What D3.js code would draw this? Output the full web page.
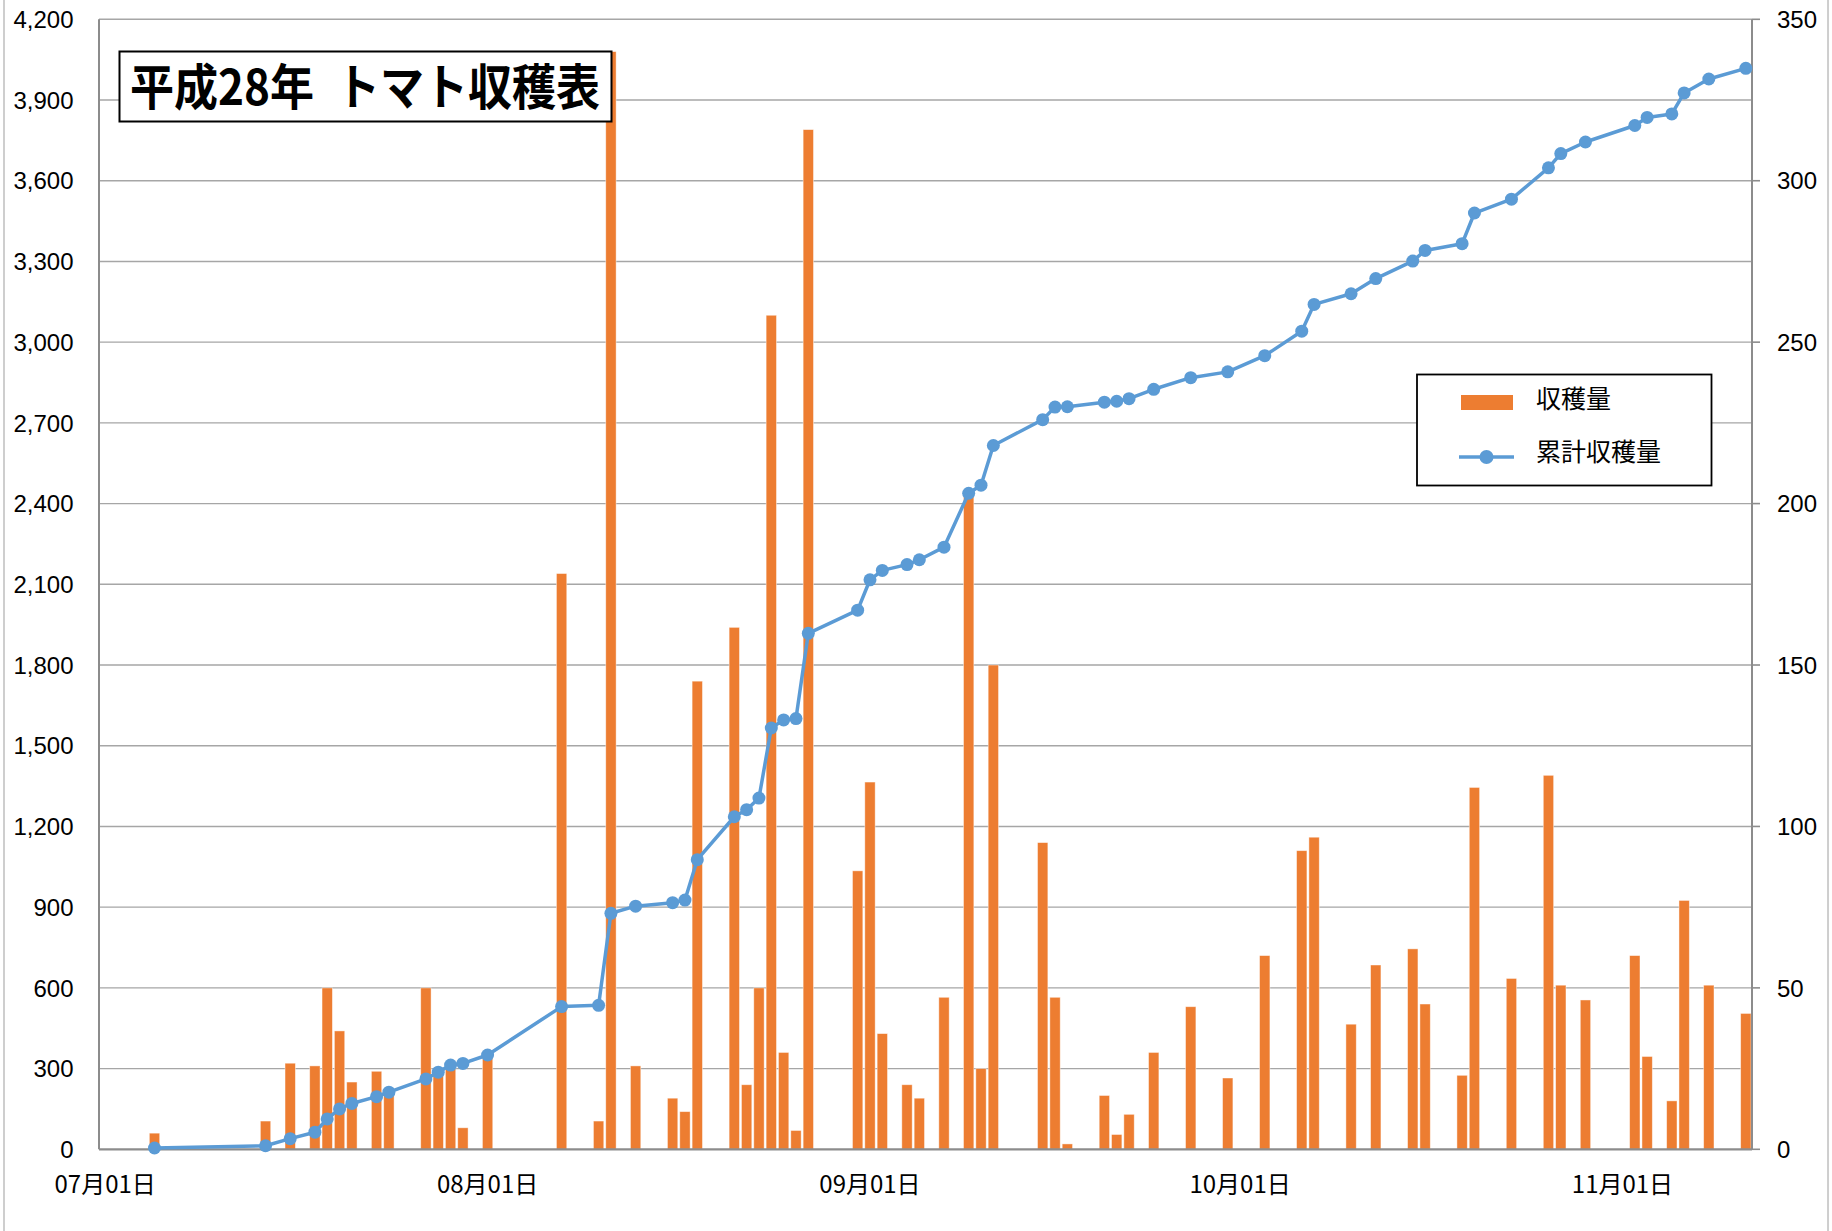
<!DOCTYPE html>
<html>
<head>
<meta charset="utf-8">
<script src="https://cdn.jsdelivr.net/npm/d3@7"></script>
<style>
  html, body { margin: 0; padding: 0; background: #fff; }
  svg { display: block; }
</style>
</head>
<body>
<svg id="chart" width="1832" height="1231"></svg>
<script>
// ---- data ----
const dates = [
  "2016-07-05","2016-07-14","2016-07-16","2016-07-18","2016-07-19","2016-07-20","2016-07-21","2016-07-23","2016-07-24",
  "2016-07-27","2016-07-28","2016-07-29","2016-07-30","2016-08-01","2016-08-07","2016-08-10","2016-08-11","2016-08-13",
  "2016-08-16","2016-08-17","2016-08-18","2016-08-21","2016-08-22","2016-08-23","2016-08-24","2016-08-25","2016-08-26",
  "2016-08-27","2016-08-31","2016-09-01","2016-09-02","2016-09-04","2016-09-05","2016-09-07","2016-09-09","2016-09-10",
  "2016-09-11","2016-09-15","2016-09-16","2016-09-17","2016-09-20","2016-09-21","2016-09-22","2016-09-24","2016-09-27",
  "2016-09-30","2016-10-03","2016-10-06","2016-10-07","2016-10-10","2016-10-12","2016-10-15","2016-10-16","2016-10-19",
  "2016-10-20","2016-10-23","2016-10-26","2016-10-27","2016-10-29","2016-11-02","2016-11-03","2016-11-05","2016-11-06",
  "2016-11-08","2016-11-11"
];
const harvest = [
  60,105,320,310,600,440,250,290,210,
  600,290,300,80,350,2140,105,4080,310,
  190,140,1740,1940,240,600,3100,360,70,
  3790,1035,1365,430,240,190,565,2440,300,
  1800,1140,565,20,200,55,130,360,530,
  265,720,1110,1160,465,685,745,540,275,
  1345,635,1390,610,555,720,345,180,925,
  610,505
];
const cumulative = [
  0.4,1.1,3.3,5.3,9.4,12.5,14.2,16.3,17.7,
  21.8,23.9,26.1,26.6,29.2,44.2,44.6,73.1,75.3,
  76.4,77.2,89.7,103.0,105.2,108.8,130.5,133.0,133.4,
  159.8,167.0,176.4,179.3,181.1,182.6,186.5,203.2,205.7,
  218.0,226.0,229.9,230.0,231.4,231.7,232.5,235.4,239.0,
  240.8,245.8,253.4,261.7,265.0,269.7,275.1,278.4,280.5,
  290.0,294.3,304.0,308.4,312.0,317.1,319.6,320.7,327.2,
  331.5,334.8
];
const leftTicks = [0,300,600,900,1200,1500,1800,2100,2400,2700,3000,3300,3600,3900,4200];
const rightTicks = [0,50,100,150,200,250,300,350];
const xTickDates = ["2016-07-01","2016-08-01","2016-09-01","2016-10-01","2016-11-01"];
const xTickLabels = ["07月01日","08月01日","09月01日","10月01日","11月01日"];
const chartTitle = "平成28年\u2002トマト収穫表";
const seriesNames = ["収穫量","累計収穫量"];

// ---- layout ----
const parse = d3.timeParse("%Y-%m-%d");
const DAY = 864e5;
const plot = {left: 99, right: 1752, top: 19.3, bottom: 1149.3};
const orange = "#ED7D31", blue = "#5B9BD5";

const data = dates.map((d,i) => ({date: parse(d), v: harvest[i], c: cumulative[i]}));

// domain runs from half a day before 1 Jul to half a day after 11 Nov, so x(date) is the day centre
const x = d3.scaleTime()
  .domain([new Date(parse("2016-07-01").getTime() - DAY/2), new Date(parse("2016-11-11").getTime() + DAY/2)])
  .range([plot.left, plot.right]);
const yL = d3.scaleLinear().domain([0,4200]).range([plot.bottom, plot.top]);
const yR = d3.scaleLinear().domain([0,350]).range([plot.bottom, plot.top]);
const dayW = x(parse("2016-07-02")) - x(parse("2016-07-01"));
const barW = dayW * 0.84;

const svg = d3.select("#chart");
const fontLat = "'Liberation Sans', Arial, sans-serif";
const fontJP = "'Noto Sans CJK JP', sans-serif";

// outer chart border (left/right edges visible)
svg.append("rect").attr("x",4).attr("y",-10).attr("width",1824).attr("height",1260)
  .attr("fill","none").attr("stroke","#BFBFBF").attr("stroke-width",1.5);

// gridlines
svg.append("g").selectAll("line").data(leftTicks.filter(t => t>0)).join("line")
  .attr("x1",plot.left).attr("x2",plot.right)
  .attr("y1",d=>yL(d)).attr("y2",d=>yL(d))
  .attr("stroke","#A6A6A6").attr("stroke-width",1.4);

// bars
svg.append("g").selectAll("rect").data(data).join("rect")
  .attr("x", d => x(d.date) - barW/2)
  .attr("y", d => yL(d.v))
  .attr("width", barW)
  .attr("height", d => yL(0) - yL(d.v))
  .attr("fill", orange)
  .attr("stroke","#fff").attr("stroke-opacity",0.55).attr("stroke-width",0.8);

// axes lines
svg.append("line").attr("x1",plot.left).attr("x2",plot.left).attr("y1",plot.top).attr("y2",plot.bottom)
  .attr("stroke","#8C8C8C").attr("stroke-width",2);
svg.append("line").attr("x1",plot.right).attr("x2",plot.right).attr("y1",plot.top).attr("y2",plot.bottom)
  .attr("stroke","#8C8C8C").attr("stroke-width",2);
svg.append("line").attr("x1",plot.left).attr("x2",plot.right).attr("y1",plot.bottom).attr("y2",plot.bottom)
  .attr("stroke","#8C8C8C").attr("stroke-width",2.2);

// right axis ticks
svg.append("g").selectAll("line").data(rightTicks).join("line")
  .attr("x1",plot.right).attr("x2",plot.right+8)
  .attr("y1",d=>yR(d)).attr("y2",d=>yR(d))
  .attr("stroke","#8C8C8C").attr("stroke-width",1.6);

// left axis labels
const fmt = d3.format(",");
svg.append("g").selectAll("text").data(leftTicks).join("text")
  .attr("x",73.5).attr("y",d=>yL(d)).attr("dy","0.36em")
  .attr("text-anchor","end").attr("font-family",fontLat).attr("font-size",24).attr("fill","#000")
  .text(d=>fmt(d));

// right axis labels
svg.append("g").selectAll("text").data(rightTicks).join("text")
  .attr("x",1777).attr("y",d=>yR(d)).attr("dy","0.36em")
  .attr("text-anchor","start").attr("font-family",fontLat).attr("font-size",24).attr("fill","#000")
  .text(d=>d);

// x axis labels
svg.append("g").selectAll("text").data(xTickDates).join("text")
  .attr("x",d=>x(parse(d))).attr("y",1185).attr("dy","0.35em")
  .attr("text-anchor","middle").attr("font-family",fontJP).attr("font-size",24).attr("fill","#000")
  .text((d,i)=>xTickLabels[i]);

// cumulative line
const line = d3.line().x(d => x(d.date)).y(d => yR(d.c));
svg.append("path").datum(data).attr("d",line)
  .attr("fill","none").attr("stroke",blue).attr("stroke-width",3.5).attr("stroke-linejoin","round");
svg.append("g").selectAll("circle").data(data).join("circle")
  .attr("cx", d => x(d.date)).attr("cy", d => yR(d.c)).attr("r",6.5)
  .attr("fill",blue);

// title box
const tb = svg.append("g");
tb.append("rect").attr("x",119.5).attr("y",51.5).attr("width",492).attr("height",70)
  .attr("fill","#fff").attr("stroke","#000").attr("stroke-width",2);
tb.append("text").attr("x",130).attr("y",87).attr("dy","0.36em")
  .attr("font-family",fontJP).attr("font-weight","bold").attr("font-size",49)
  .attr("textLength",470).attr("lengthAdjust","spacingAndGlyphs").attr("fill","#000")
  .text(chartTitle);

// legend
const lg = svg.append("g");
lg.append("rect").attr("x",1417).attr("y",374.5).attr("width",294.5).attr("height",111)
  .attr("fill","#fff").attr("stroke","#000").attr("stroke-width",1.8);
lg.append("rect").attr("x",1461).attr("y",395).attr("width",52).attr("height",15).attr("fill",orange);
lg.append("line").attr("x1",1459).attr("x2",1514).attr("y1",457).attr("y2",457)
  .attr("stroke",blue).attr("stroke-width",3.5);
lg.append("circle").attr("cx",1486.5).attr("cy",457).attr("r",7).attr("fill",blue);
lg.append("text").attr("x",1536).attr("y",399).attr("dy","0.36em")
  .attr("font-family",fontJP).attr("font-size",25).attr("fill","#000").text(seriesNames[0]);
lg.append("text").attr("x",1536).attr("y",452).attr("dy","0.36em")
  .attr("font-family",fontJP).attr("font-size",25).attr("fill","#000").text(seriesNames[1]);
</script>
</body>
</html>
